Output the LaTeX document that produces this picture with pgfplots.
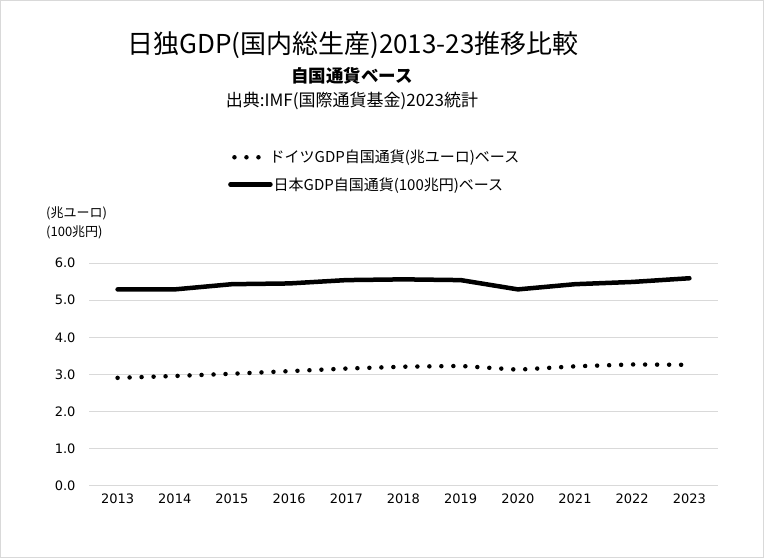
\documentclass[border=0pt]{standalone}
\usepackage{pgfplots}
\pgfplotsset{compat=1.18}
\usepackage{fontspec}
\setmainfont{Noto Sans CJK JP}
\newfontfamily\numfont{DejaVu Sans}
\definecolor{gridc}{HTML}{D9D9D9}
\begin{document}
\begin{tikzpicture}
\useasboundingbox (0bp,0bp) rectangle (764bp,558bp);
\draw[gridc, line width=1bp] (0.5bp,0.5bp) rectangle (763.5bp,557.5bp);
\node[font=\fontsize{26bp}{30bp}\selectfont] at (353bp,513bp) {日独GDP(国内総生産)2013-23推移比較};
\node[font=\fontsize{17.5bp}{20bp}\selectfont\bfseries] at (352bp,482bp) {自国通貨ベース};
\node[font=\fontsize{17bp}{20bp}\selectfont] at (352bp,457bp) {出典:IMF(国際通貨基金)2023統計};
\node[font=\fontsize{13bp}{16bp}\selectfont, anchor=west, inner sep=0pt] at (46bp,345bp) {(兆ユーロ)};
\node[font=\fontsize{13bp}{16bp}\selectfont, anchor=west, inner sep=0pt] at (46bp,326bp) {(100兆円)};
\begin{axis}[
  at={(89bp,72bp)}, anchor=south west,
  scale only axis, width=629bp, height=223bp,
  xmin=2012.5, xmax=2023.5, ymin=0, ymax=6,
  xtick={2013,...,2023},
  ytick={0,1,...,6},
  /pgf/number format/assume math mode=true,
  ticklabel style={font=\numfont\fontsize{13bp}{15bp}\selectfont},
  xticklabel style={/pgf/number format/1000 sep={}, yshift=-4bp},
  yticklabel style={/pgf/number format/fixed, /pgf/number format/fixed zerofill, /pgf/number format/precision=1, xshift=-10bp},
  axis line style={draw=none},
  tick style={draw=none},
  ymajorgrids, grid style={gridc, line width=1bp},
  clip=false,
  legend style={at={(139bp,337bp)}, anchor=north west, draw=none, fill=none,
    font=\fontsize{15bp}{18bp}\selectfont, row sep=11bp, inner sep=0pt,
    nodes={inner sep=1bp}},
  legend cell align=left,
  legend columns=1,
]
\addplot[black, line width=4.5bp, line cap=round, dash pattern=on 0pt off 12bp,
  legend image code/.code={\draw[black, line width=4.5bp, line cap=round, dash pattern=on 0pt off 12bp] (6bp,0pt) -- (30bp,0pt);}]
  coordinates {(2013,2.91) (2014,2.96) (2015,3.02) (2016,3.09) (2017,3.16) (2018,3.21) (2019,3.23) (2020,3.13) (2021,3.22) (2022,3.27) (2023,3.26)};
\addlegendentry{\hspace{-4bp}ドイツGDP自国通貨(兆ユーロ)ベース}
\addplot[black, line width=4.5bp, line cap=round, line join=round,
  legend image code/.code={\draw[black, line width=4.5bp] (2bp,0pt) -- (42bp,0pt);}]
  coordinates {(2013,5.29) (2014,5.29) (2015,5.43) (2016,5.45) (2017,5.54) (2018,5.56) (2019,5.54) (2020,5.29) (2021,5.43) (2022,5.49) (2023,5.59)};
\addlegendentry{日本GDP自国通貨(100兆円)ベース}
\end{axis}
\end{tikzpicture}
\end{document}
